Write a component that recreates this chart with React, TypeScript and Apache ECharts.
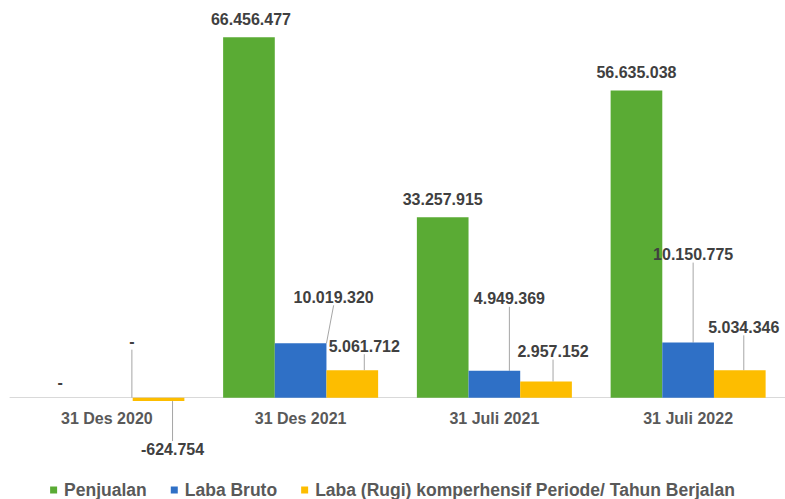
import React, { useEffect, useRef } from "react";
import * as echarts from "echarts";

const categories = ["31 Des 2020", "31 Des 2021", "31 Juli 2021", "31 Juli 2022"];
const seriesNames = ["Penjualan", "Laba Bruto", "Laba (Rugi) komperhensif Periode/ Tahun Berjalan"];
const penjualan = [0, 66456477, 33257915, 56635038];
const labaBruto = [0, 10019320, 4949369, 10150775];
const labaRugi = [-624754, 5061712, 2957152, 5034346];

// label offsets (px) relative to default label positions
const greenDx = [5, 2, 0, 0];
const greenDy = [3, 0, 0, 0];
const blueDx = [25, 33, 15, 5];
const blueDy = [-43, -33, -59, -75];
const yellowDx = [14, 12, 7, 4];
const yellowDy = [35, -11, -17, -30];

const colors = ["#5aab34", "#2f70c6", "#fdbd00"];
const FONT = "'Liberation Sans', Arial, sans-serif";

const fmt = (v: number) => (v === 0 ? "-" : v.toLocaleString("de-DE"));

export default function App() {
  const ref = useRef<HTMLDivElement>(null);
  useEffect(() => {
    if (!ref.current) return;
    const chart = echarts.init(ref.current, null, { renderer: "svg" });
    const labelBase = {
      show: true,
      fontFamily: FONT,
      fontSize: 16,
      fontWeight: "bold" as any,
      color: "#404040",
      formatter: (p: any) => fmt(p.value),
    };
    const labelLine = { show: true, lineStyle: { color: "#a6a6a6", width: 1 } };
    chart.setOption({
      animation: false,
      backgroundColor: "#ffffff",
      color: colors,
      grid: { left: 10, right: 0, top: 18, bottom: 97 },
      legend: {
        top: 476,
        left: "center",
        icon: "rect",
        itemWidth: 7,
        itemHeight: 7,
        itemGap: 24,
        textStyle: {
          fontFamily: FONT,
          fontSize: 17.5,
          fontWeight: "bold",
          color: "#595959",
          padding: [0, 0, 0, 2],
        },
        data: seriesNames,
      },
      xAxis: {
        type: "category",
        data: categories,
        axisLine: { onZero: true, lineStyle: { color: "#d9d9d9", width: 1 } },
        axisTick: { show: false },
        axisLabel: { fontFamily: FONT, fontSize: 16, fontWeight: "bold", color: "#595959", margin: 8 },
      },
      yAxis: {
        type: "value",
        min: -800000,
        max: 70000000,
        show: false,
        splitLine: { show: false },
      },
      series: [
        {
          name: seriesNames[0],
          type: "bar",
          data: penjualan,
          barGap: "0%",
          barCategoryGap: "20%",
          label: { ...labelBase, position: "top", distance: 10 },
          labelLayout: (p: any) => ({ dx: greenDx[p.dataIndex], dy: greenDy[p.dataIndex] }),
        },
        {
          name: seriesNames[1],
          type: "bar",
          data: labaBruto,
          barGap: "0%",
          barCategoryGap: "20%",
          label: { ...labelBase, position: "top", distance: 5 },
          labelLine,
          labelLayout: (p: any) => ({ dx: blueDx[p.dataIndex], dy: blueDy[p.dataIndex] }),
        },
        {
          name: seriesNames[2],
          type: "bar",
          data: labaRugi,
          barGap: "0%",
          barCategoryGap: "20%",
          label: { ...labelBase, position: "outside", distance: 5 },
          labelLine,
          labelLayout: (p: any) => ({ dx: yellowDx[p.dataIndex], dy: yellowDy[p.dataIndex] }),
        },
      ],
    });
    return () => chart.dispose();
  }, []);
  return (
    <div
      ref={ref}
      style={{ position: "fixed", left: 0, top: 0, width: 785, height: 499, background: "#fff" }}
    />
  );
}
